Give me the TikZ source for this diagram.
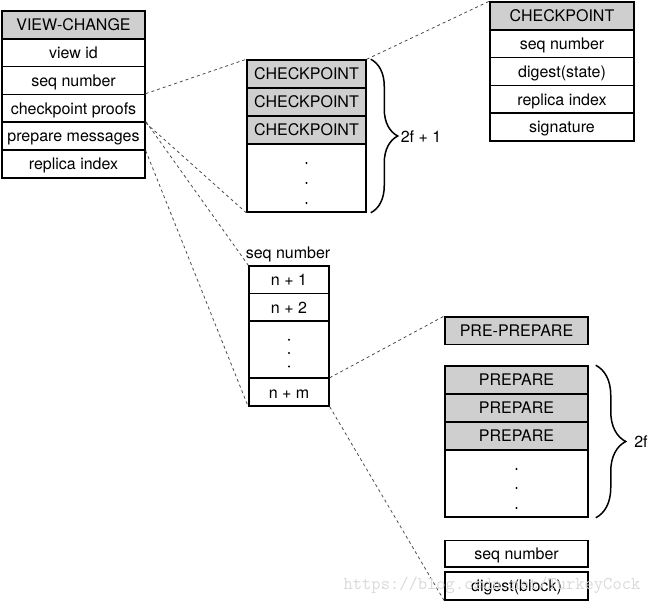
\documentclass[tikz,border=0pt]{standalone}
\usepackage{fontspec}
\setmainfont{TeX Gyre Heros}
\usetikzlibrary{decorations.pathreplacing,calc}
\begin{document}
\begin{tikzpicture}[x=1pt,y=-1pt,
  cell/.style={draw, line width=1.5pt, inner sep=0pt, text height=11.6pt, text depth=0pt,
    font=\fontsize{16}{19}\selectfont},
  head/.style={cell, fill=black!19},
  lcol/.style={minimum width=143pt, minimum height=27.8pt},
  scol/.style={minimum width=80pt},
  link/.style={draw=black!70, line width=0.8pt, dash pattern=on 3pt off 3pt},
  curly/.style={draw, decorate, decoration={brace, amplitude=#1}, line width=1.5pt},
  lbl/.style={font=\fontsize{16}{19}\selectfont, inner sep=1pt, text height=11.6pt, text depth=0pt},
  dot/.style={radius=1.1pt}
]
\useasboundingbox (0,0) rectangle (654,603);

% VIEW-CHANGE message
\node[head, lcol] (vc)    at (73.5,24.9)  {VIEW-CHANGE};
\node[cell, lcol] (vcvid) at (73.5,52.7)  {view id};
\node[cell, lcol] (vcsn)  at (73.5,80.5)  {seq number};
\node[cell, lcol] (vccp)  at (73.5,108.3) {checkpoint proofs};
\node[cell, lcol] (vcpm)  at (73.5,136.1) {prepare messages};
\node[cell, lcol] (vcri)  at (73.5,163.9) {replica index};

% checkpoint proofs: 2f+1 CHECKPOINT messages
\node[head, minimum width=119pt, minimum height=28pt] (cp1) at (306.5,74)  {CHECKPOINT};
\node[head, minimum width=119pt, minimum height=28pt] (cp2) at (306.5,102) {CHECKPOINT};
\node[head, minimum width=119pt, minimum height=28pt] (cp3) at (306.5,130) {CHECKPOINT};
\node[cell, minimum width=119pt, minimum height=68pt] (cpd) at (306.5,178) {};
\foreach \d in {-15,5,25} \fill ($(cpd.center)+(0,\d)$) circle[dot];
\draw[curly=27pt] ($(cp1.north east)+(4,0)$) -- ($(cpd.south east)+(4,0)$);
\node[lbl] (cpcount) at (421,137) {2f + 1};

% CHECKPOINT message layout
\node[head, lcol, minimum width=144pt] (ck)   at (562,15.9)  {CHECKPOINT};
\node[cell, lcol, minimum width=144pt] (cksn) at (562,43.7)  {seq number};
\node[cell, lcol, minimum width=144pt] (ckdg) at (562,71.5)  {digest(state)};
\node[cell, lcol, minimum width=144pt] (ckri) at (562,99.3)  {replica index};
\node[cell, lcol, minimum width=144pt] (cksg) at (562,127.1) {signature};

% prepare messages, indexed by sequence number
\node[lbl] (snlabel) at (288,253) {seq number};
\node[cell, scol, minimum height=27.5pt] (sn1) at (289,279.75) {n + 1};
\node[cell, scol, minimum height=27.5pt] (sn2) at (289,307.25) {n + 2};
\node[cell, scol, minimum height=56.5pt] (snd) at (289,349.25) {};
\foreach \d in {-9.5,3.8,17.2} \fill ($(snd.center)+(0,\d)$) circle[dot];
\node[cell, scol, minimum height=27.5pt] (snm) at (289,392.25) {n + m};
\draw[line width=1.1pt] (snm.north west) -- (snm.north east);

% per sequence number: PRE-PREPARE, 2f PREPAREs and the prepared request
\node[head, lcol, minimum height=27.5pt] (pp) at (516.5,330.5) {PRE-PREPARE};
\node[head, lcol, minimum height=28pt] (pr1) at (516.5,380) {PREPARE};
\node[head, lcol, minimum height=28pt] (pr2) at (516.5,408) {PREPARE};
\node[head, lcol, minimum height=28pt] (pr3) at (516.5,436) {PREPARE};
\node[cell, lcol, minimum height=67pt] (prd) at (516.5,483.5) {};
\foreach \d in {-14.5,4.5,24.5} \fill ($(prd.center)+(0,\d)$) circle[dot];
\draw[curly=30pt] ($(pr1.north east)+(7,0)$) -- ($(prd.south east)+(7,0)$);
\node[lbl] (prcount) at (641,442) {2f};

\node[cell, lcol, minimum height=26.5pt] (rqsn) at (516.5,553.5) {seq number};
\node[cell, lcol, minimum height=28pt]   (rqdg) at (516.5,586)   {digest(block)};

% expansion links
\draw[link] (vccp.north east) -- (cp1.north west);
\draw[link] (vccp.south east) -- (cpd.south west);
\draw[link] (cp1.north east) -- (ck.north west);
\draw[link] (vcpm.north east) -- (sn1.north west);
\draw[link] (vcpm.south east) -- (snm.south west);
\draw[link] (snm.north east) -- (pp.north west);
\draw[link] (snm.south east) -- (rqdg.south west);

% source mark
\node[text=black!15, font=\ttfamily\fontsize{18}{20}\selectfont, inner sep=0pt, anchor=base] (mark) at (492,589) {https://blog.csdn.net/TurkeyCock};
\end{tikzpicture}
\end{document}
